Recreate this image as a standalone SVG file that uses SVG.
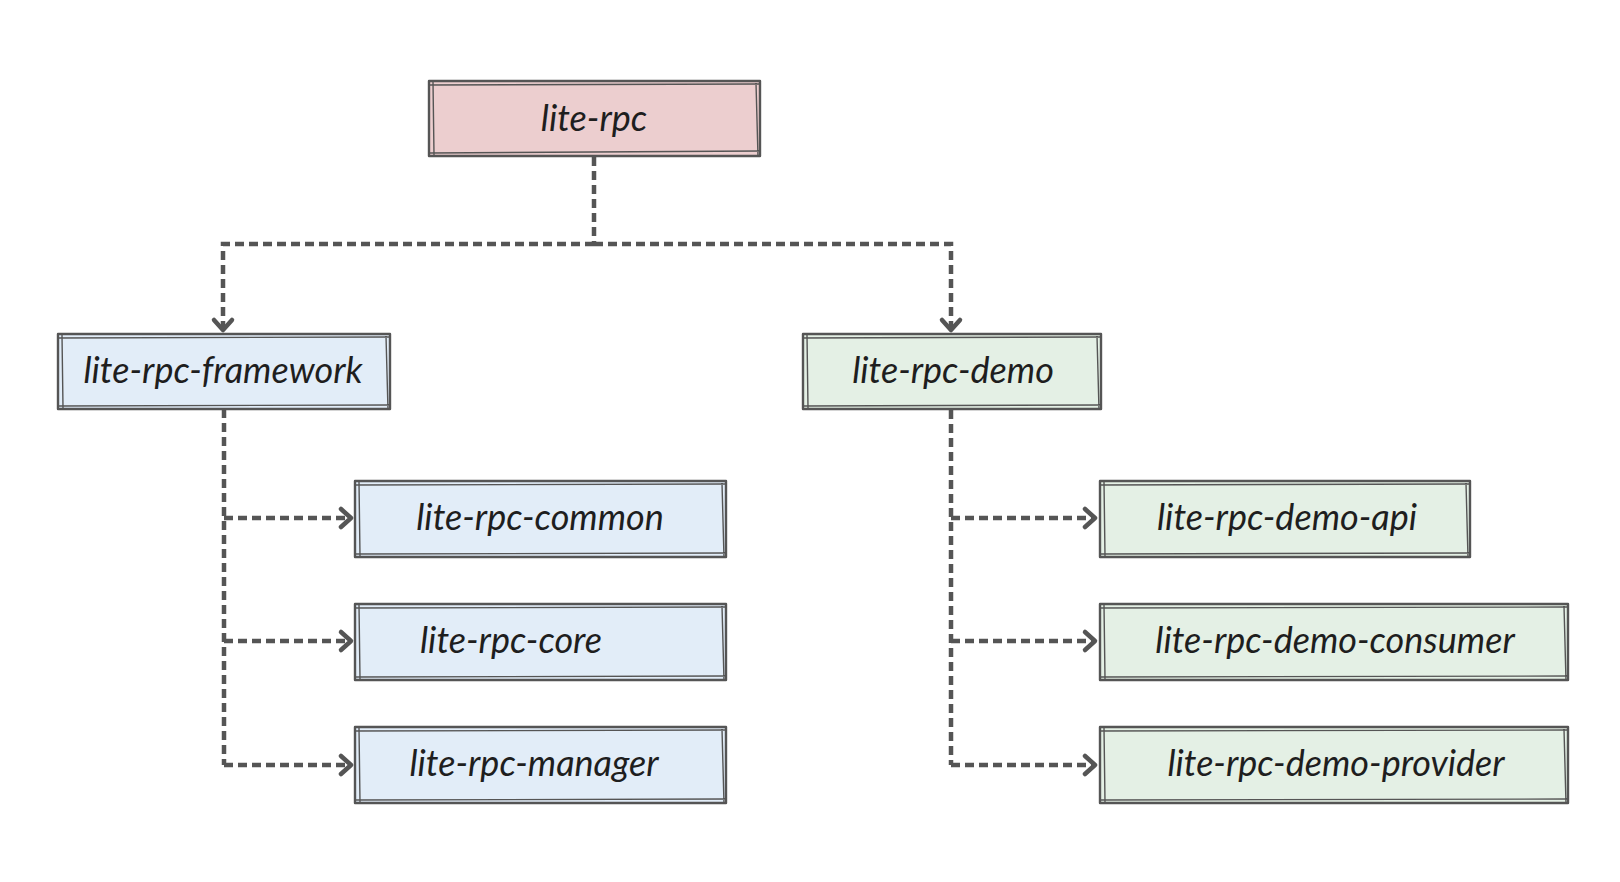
<svg xmlns="http://www.w3.org/2000/svg" width="1620" height="882" viewBox="0 0 1620 882">
<defs>
<style>
.bg{fill:#ffffff}
.box{stroke:#555555;stroke-width:2.4;stroke-linejoin:round}
.sk{fill:none;stroke:#555555;stroke-width:1.4}
.red{fill:#eccecf}
.blue{fill:#e2edf8}
.green{fill:#e4f0e5}
.lbl{font-family:"Lato","Liberation Sans",sans-serif;font-style:italic;font-size:36px;fill:#1e1e1e;text-anchor:middle}
.con{fill:none;stroke:#555555;stroke-width:4.5;stroke-dasharray:9 5}
</style>
<marker id="arr" markerUnits="userSpaceOnUse" markerWidth="28" markerHeight="28" refX="14" refY="14" orient="auto" viewBox="0 0 28 28">
<path d="M4,5 L14,14 L4,23" fill="none" stroke="#555555" stroke-width="4.5" stroke-linecap="round" stroke-linejoin="round"/>
</marker>
</defs>
<rect class="bg" width="1620" height="882"/>

<g id="connectors">
<path class="con" d="M594,157 V244"/>
<path class="con" d="M594,244 H223 V330" marker-end="url(#arr)"/>
<path class="con" d="M594,244 H951 V330" marker-end="url(#arr)"/>
<path class="con" d="M224,409 V765"/>
<path class="con" d="M224,518 H351" marker-end="url(#arr)"/>
<path class="con" d="M224,641 H351" marker-end="url(#arr)"/>
<path class="con" d="M224,765 H351" marker-end="url(#arr)"/>
<path class="con" d="M951,410 V765"/>
<path class="con" d="M951,518 H1095" marker-end="url(#arr)"/>
<path class="con" d="M951,641 H1095" marker-end="url(#arr)"/>
<path class="con" d="M951,765 H1095" marker-end="url(#arr)"/>
</g>

<g id="lite-rpc">
<rect class="box red" x="429" y="81" width="331" height="75"/>
<path class="sk" d="M428,85 L759,84 M433,82 L434,155 M756,83 L758,157 M430,153 L760,151"/>
<text class="lbl" x="594" y="131">lite-rpc</text>
</g>

<g id="lite-rpc-framework">
<rect class="box blue" x="58" y="334" width="332" height="75"/>
<path class="sk" d="M57,338 L389,337 M62,335 L63,408 M386,336 L388,410 M59,406 L390,405"/>
<text class="lbl" x="223" y="383">lite-rpc-framework</text>
</g>

<g id="lite-rpc-demo">
<rect class="box green" x="803" y="334" width="298" height="75"/>
<path class="sk" d="M802,338 L1100,337 M807,335 L808,408 M1097,336 L1099,410 M804,406 L1101,405"/>
<text class="lbl" x="953" y="383">lite-rpc-demo</text>
</g>

<g id="lite-rpc-common">
<rect class="box blue" x="355" y="481" width="371" height="76"/>
<path class="sk" d="M354,485 L725,484 M359,482 L360,556 M722,483 L724,558 M356,554 L726,553"/>
<text class="lbl" x="540" y="530">lite-rpc-common</text>
</g>

<g id="lite-rpc-core">
<rect class="box blue" x="355" y="604" width="371" height="76"/>
<path class="sk" d="M354,608 L725,607 M359,605 L360,679 M722,606 L724,681 M356,677 L726,676"/>
<text class="lbl" x="511" y="653">lite-rpc-core</text>
</g>

<g id="lite-rpc-manager">
<rect class="box blue" x="355" y="727" width="371" height="76"/>
<path class="sk" d="M354,731 L725,730 M359,728 L360,802 M722,729 L724,804 M356,800 L726,799"/>
<text class="lbl" x="534" y="776">lite-rpc-manager</text>
</g>

<g id="lite-rpc-demo-api">
<rect class="box green" x="1100" y="481" width="370" height="76"/>
<path class="sk" d="M1099,485 L1469,484 M1104,482 L1105,556 M1466,483 L1468,558 M1101,554 L1470,553"/>
<text class="lbl" x="1287" y="530">lite-rpc-demo-api</text>
</g>

<g id="lite-rpc-demo-consumer">
<rect class="box green" x="1100" y="604" width="468" height="76"/>
<path class="sk" d="M1099,608 L1567,607 M1104,605 L1105,679 M1564,606 L1566,681 M1101,677 L1568,676"/>
<text class="lbl" x="1335" y="653">lite-rpc-demo-consumer</text>
</g>

<g id="lite-rpc-demo-provider">
<rect class="box green" x="1100" y="727" width="468" height="76"/>
<path class="sk" d="M1099,731 L1567,730 M1104,728 L1105,802 M1564,729 L1566,804 M1101,800 L1568,799"/>
<text class="lbl" x="1336" y="776">lite-rpc-demo-provider</text>
</g>
</svg>
